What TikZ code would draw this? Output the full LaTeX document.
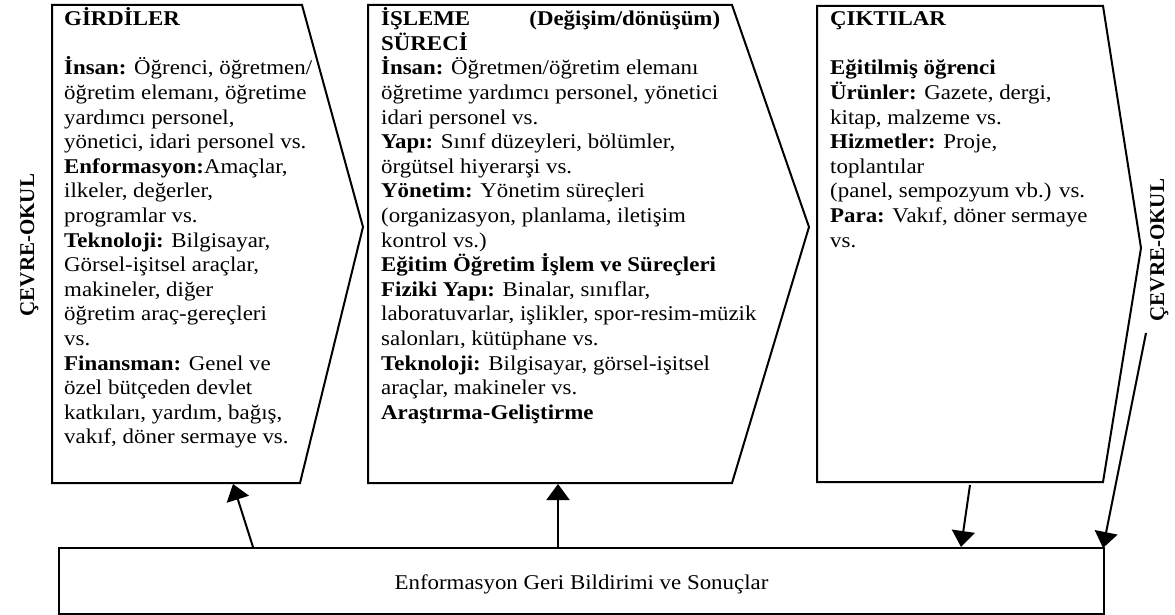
\documentclass[tikz,border=0pt]{standalone}
\usepackage{fontspec}
\setmainfont{Liberation Serif}[FakeStretch=1.09]
\newfontfamily\sidefont{Liberation Serif}
\usetikzlibrary{arrows.meta}

% strut that fixes the height of the first text line
\newcommand\firstrow{\rule{0pt}{20pt}}

\tikzset{
  stage/.style={draw, line width=2pt, line join=miter},
  boxtext/.style={anchor=north west, inner sep=0pt, align=left,
    font=\fontsize{21}{24.6}\selectfont},
  side/.style={rotate=90, anchor=base, inner sep=0pt,
    font=\sidefont\bfseries\fontsize{21}{24}\selectfont},
  feedback/.style={draw, line width=2pt, inner sep=0pt,
    minimum width=1045pt, minimum height=66pt,
    text height=21pt, text depth=5pt,
    font=\fontsize{21}{24}\selectfont},
  arr/.style={line width=2pt, -{Triangle[width=23pt,length=16pt]}},
}

\begin{document}
\begin{tikzpicture}[x=1pt,y=-1pt]
\useasboundingbox (0,0) rectangle (1175,615);

% three stages of the system
\draw[stage] (52,5) -- (302,5) -- (363,227) -- (300,483) -- (52,483) -- cycle;
\draw[stage] (368,5) -- (732,5) -- (809,227) -- (732,483) -- (368,483) -- cycle;
\draw[stage] (817,6) -- (1103,6) -- (1141,248) -- (1103,482) -- (817,482) -- cycle;

\node[boxtext] (girdi) at (64,5.5) {\firstrow\textbf{GİRDİLER}\\ ~\\
\textbf{İnsan:} Öğrenci, öğretmen/\\
öğretim elemanı, öğretime\\
yardımcı personel,\\
yönetici, idari personel vs.\\
\textbf{Enformasyon:}Amaçlar,\\
ilkeler, değerler,\\
programlar vs.\\
\textbf{Teknoloji:} Bilgisayar,\\
Görsel-işitsel araçlar,\\
makineler, diğer\\
öğretim araç-gereçleri\\
vs.\\
\textbf{Finansman:} Genel ve\\
özel bütçeden devlet\\
katkıları, yardım, bağış,\\
vakıf, döner sermaye vs.};

\node[boxtext] (isleme) at (381,5.5) {\firstrow\makebox[339pt][l]{\textbf{İŞLEME}\hfill\textbf{(Değişim/dönüşüm)}}\\
\textbf{SÜRECİ}\\
\textbf{İnsan:} Öğretmen/öğretim elemanı\\
öğretime yardımcı personel, yönetici\\
idari personel vs.\\
\textbf{Yapı:} Sınıf düzeyleri, bölümler,\\
örgütsel hiyerarşi vs.\\
\textbf{Yönetim:} Yönetim süreçleri\\
(organizasyon, planlama, iletişim\\
kontrol vs.)\\
\textbf{Eğitim Öğretim İşlem ve Süreçleri}\\
\textbf{Fiziki Yapı:} Binalar, sınıflar,\\
laboratuvarlar, işlikler, spor-resim-müzik\\
salonları, kütüphane vs.\\
\textbf{Teknoloji:} Bilgisayar, görsel-işitsel\\
araçlar, makineler vs.\\
\textbf{Araştırma-Geliştirme}};

\node[boxtext] (cikti) at (830,5.5) {\firstrow\textbf{ÇIKTILAR}\\ ~\\
\textbf{Eğitilmiş öğrenci}\\
\textbf{Ürünler:} Gazete, dergi,\\
kitap, malzeme vs.\\
\textbf{Hizmetler:} Proje,\\
toplantılar\\
(panel, sempozyum vb.) vs.\\
\textbf{Para:} Vakıf, döner sermaye\\
vs.};

% environment labels
\node[side] (cevreL) at (34,245) {ÇEVRE-OKUL};
\node[side] (cevreR) at (1164,250) {ÇEVRE-OKUL};

% feedback box
\node[feedback] (geri) at (581.5,581) {Enformasyon Geri Bildirimi ve Sonuçlar};

% connector end points
\coordinate (fbA) at (253,547);
\coordinate (inA) at (233,484);
\coordinate (fbB) at (558,547);
\coordinate (inB) at (558,484);
\coordinate (outC) at (970,485);
\coordinate (fbC) at (961,547);
\coordinate (envD) at (1146,333);
\coordinate (fbD) at (1103,548);

\draw[arr] (fbA) -- (inA);
\draw[arr] (fbB) -- (inB);
\draw[arr] (outC) -- (fbC);
\draw[arr] (envD) -- (fbD);
\end{tikzpicture}
\end{document}
